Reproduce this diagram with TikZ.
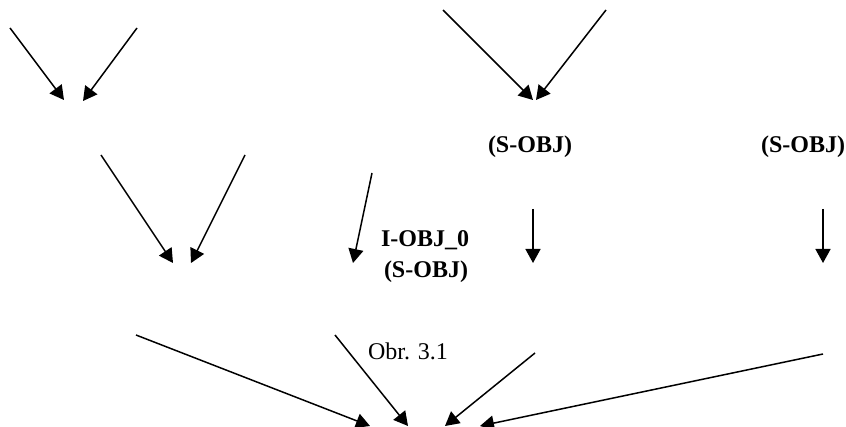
\documentclass[tikz,border=0pt]{standalone}
\usepackage{fontspec}
\setmainfont{Liberation Serif}
\usetikzlibrary{arrows.meta}
\begin{document}
\begin{tikzpicture}[x=0.5pt,y=-0.5pt,
  conn/.style={line width=0.75pt,-{Triangle[length=7pt,width=7.5pt]}},
  lbl/.style={inner sep=0pt,font=\fontsize{12}{14}\selectfont\bfseries},
  figcaption/.style={inner sep=0pt,font=\fontsize{12}{14}\selectfont}]
\useasboundingbox (0,0) rectangle (846,427);

% labels
\node[lbl] (s1) at (530,147) {(S-OBJ)};
\node[lbl] (s2) at (803,147) {(S-OBJ)};
\node[lbl] (i0) at (425,240) {I-OBJ\_0};
\node[lbl] (s3) at (426,272) {(S-OBJ)};
\node[figcaption] (obr) at (408,351) {Obr. 3.1};

% arrow ends
\coordinate (a1) at (10,28);   \coordinate (b1) at (64,100);
\coordinate (a2) at (137,28);  \coordinate (b2) at (83,101);
\coordinate (a3) at (443,10);  \coordinate (b3) at (533,100);
\coordinate (a4) at (606,10);  \coordinate (b4) at (536,100);
\coordinate (a5) at (101,155); \coordinate (b5) at (173,263);
\coordinate (a6) at (245,155); \coordinate (b6) at (191,263);
\coordinate (a7) at (372,173); \coordinate (b7) at (353,263);
\coordinate (a8) at (533,209); \coordinate (b8) at (533,263);
\coordinate (a9) at (823,209); \coordinate (b9) at (823,263);
\coordinate (a10) at (136,335); \coordinate (b10) at (370,426);
\coordinate (a11) at (335,335); \coordinate (b11) at (408,426);
\coordinate (a12) at (535,353); \coordinate (b12) at (445,426);
\coordinate (a13) at (823,354); \coordinate (b13) at (480,426);

\foreach \i in {1,...,13} \draw[conn] (a\i) -- (b\i);
\end{tikzpicture}
\end{document}
